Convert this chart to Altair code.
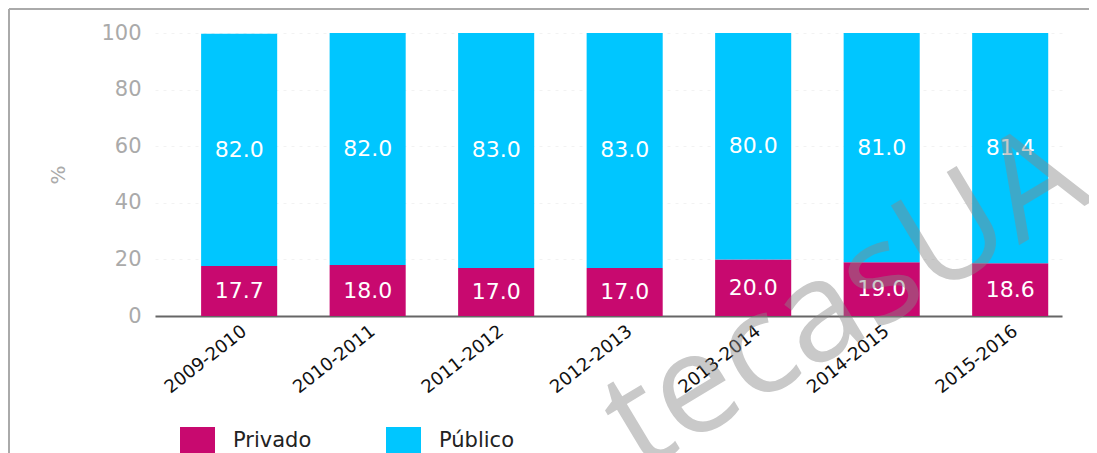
import altair as alt
import pandas as pd

years = ["2009-2010", "2010-2011", "2011-2012", "2012-2013", "2013-2014", "2014-2015", "2015-2016"]
privado = [17.7, 18.0, 17.0, 17.0, 20.0, 19.0, 18.6]
publico = [82.0, 82.0, 83.0, 83.0, 80.0, 81.0, 81.4]
series = ["Privado", "Público"]
colors = ["#c8096f", "#00c6ff"]
y_ticks = [0, 20, 40, 60, 80, 100]

rows = []
for i, yr in enumerate(years):
    rows.append({"year": yr, "type": "Privado", "order": 0, "value": privado[i]})
    rows.append({"year": yr, "type": "Público", "order": 1, "value": publico[i]})
df = pd.DataFrame(rows)

FONT = "DejaVu Sans"

base = alt.Chart(df).transform_stack(
    stack="value", groupby=["year"], as_=["v0", "v1"], sort=[alt.SortField("order")]
).transform_calculate(mid="(datum.v0 + datum.v1) / 2")

xenc = alt.X(
    "year:N", sort=years, title=None,
    scale=alt.Scale(paddingInner=0.408, paddingOuter=0.233, align=0.77),
    axis=alt.Axis(labelAngle=-38, labelFontSize=18, labelColor="#111", labelFont=FONT,
                  ticks=False, domainColor="#666", domainWidth=2, labelPadding=6, grid=False),
)

bars = base.mark_bar().encode(
    x=xenc,
    y=alt.Y("v0:Q", scale=alt.Scale(domain=[0, 100]), title="%",
            axis=alt.Axis(values=y_ticks, labelFontSize=21, labelColor="#aaa", labelFont=FONT,
                          titleFontSize=20, titleColor="#aaa", titleFont=FONT, titleFontWeight="normal",
                          titlePadding=32, domain=False, ticks=False, labelPadding=14,
                          grid=True, gridColor="#f2f2f2", gridDash=[3, 5], gridWidth=1)),
    y2="v1:Q",
    color=alt.Color("type:N", scale=alt.Scale(domain=series, range=colors), title=None,
                    legend=alt.Legend(orient="none", legendX=25, legendY=390, direction="horizontal",
                                      symbolType="M-1,-0.77h2v1.54h-2z", symbolSize=1225,
                                      symbolStrokeWidth=0, labelFontSize=21, labelColor="#222",
                                      labelFont=FONT, labelOffset=18, columnPadding=74)),
)

labels = base.mark_text(color="white", fontSize=22, font=FONT).encode(
    x=alt.X("year:N", sort=years),
    y=alt.Y("mid:Q"),
    text=alt.Text("value:Q", format=".1f"),
)

frame_df = pd.DataFrame({"k": [0]})
left_border = alt.Chart(frame_df).mark_rule(color="#aaaaaa", strokeWidth=2).encode(
    x=alt.value(-146), x2=alt.value(-146), y=alt.value(-24), y2=alt.value(450))
top_border = alt.Chart(frame_df).mark_rule(color="#aaaaaa", strokeWidth=2).encode(
    x=alt.value(-146), x2=alt.value(940), y=alt.value(-24), y2=alt.value(-24))

watermark = alt.Chart(pd.DataFrame({"t": ["tecasUA"]})).mark_text(
    fontSize=140, font="Open Sans", angle=329, align="left", baseline="alphabetic",
    color="#888888", opacity=0.45).encode(
    x=alt.value(485), y=alt.value(440), text="t:N")

chart = alt.layer(bars, labels, left_border, top_border, watermark).properties(
    width=907, height=283,
    autosize=alt.AutoSizeParams(type="none"),
    padding={"left": 147, "top": 25, "right": 27, "bottom": 150},
).configure_view(stroke=None)

chart.save("out.html", embed_options={"renderer": "svg", "actions": False})
